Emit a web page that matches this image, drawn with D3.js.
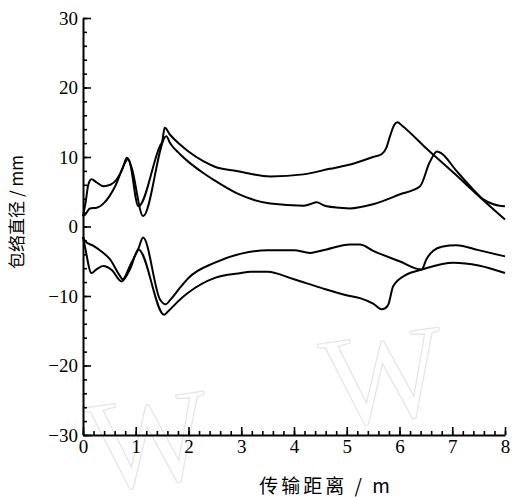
<!DOCTYPE html>
<html>
<head>
<meta charset="utf-8">
<script src="https://cdn.jsdelivr.net/npm/d3@7"></script>
<style>
  body { margin: 0; background: #fff; }
  svg { display: block; }
</style>
</head>
<body>
<div id="chart"></div>
<script>
// envelope curves, distance in m, diameter in mm
var upper1X = [0, 0.05, 0.1, 0.16, 0.25, 0.39, 0.52, 0.64, 0.75, 0.83, 0.88, 1.05, 1.46, 1.5, 1.55, 1.65, 1.84, 2.0, 2.28, 2.5, 2.91, 3.55, 4.18, 4.68, 5.0, 5.5, 5.66, 5.75, 5.82, 5.9, 5.96, 6.05, 6.5, 7.0, 7.5, 8.0];
var upper1Y = [1.5, 3.5, 6.0, 6.8, 6.4, 5.8, 6.0, 6.8, 8.3, 9.9, 9.4, 2.9, 11.6, 12.2, 14.2, 13.2, 11.8, 10.8, 9.4, 8.6, 8.0, 7.2, 7.5, 8.3, 8.8, 10.0, 10.4, 11.3, 13.0, 14.6, 15.0, 14.5, 11.3, 7.9, 4.4, 1.0];

var upper2X = [0, 0.04, 0.13, 0.26, 0.4, 0.61, 0.8, 0.85, 0.92, 1.14, 1.58, 1.65, 1.84, 2.0, 2.28, 2.5, 2.91, 3.55, 4.18, 4.3, 4.43, 4.55, 4.62, 4.87, 5.06, 5.5, 6.0, 6.39, 6.57, 6.71, 6.8, 7.08, 7.4, 7.59, 7.78, 8.0];
var upper2Y = [1.5, 1.7, 2.6, 2.7, 3.4, 5.8, 9.2, 9.7, 8.5, 1.5, 13.0, 12.0, 10.4, 9.3, 7.7, 6.6, 4.8, 3.3, 3.0, 3.2, 3.5, 3.1, 2.9, 2.7, 2.6, 3.2, 4.6, 5.8, 9.2, 10.8, 10.5, 8.0, 5.3, 3.9, 3.2, 2.9];

var lower1X = [0, 0.04, 0.2, 0.35, 0.51, 0.7, 0.75, 0.9, 1.05, 1.14, 1.46, 1.57, 1.65, 1.84, 2.0, 2.5, 3.0, 3.5, 4.0, 4.3, 4.45, 4.62, 5.06, 5.25, 5.5, 6.0, 6.42, 6.51, 6.64, 6.8, 7.08, 7.5, 8.0];
var lower1Y = [-1.5, -2.1, -2.8, -3.6, -4.7, -7.1, -7.6, -5.5, -3.2, -1.6, -10.5, -11.2, -10.6, -8.8, -7.4, -5.2, -3.9, -3.4, -3.4, -3.8, -3.6, -3.3, -2.6, -2.6, -3.5, -5.0, -6.2, -4.7, -3.5, -2.9, -2.7, -3.4, -4.3];

var lower2X = [0, 0.04, 0.16, 0.25, 0.38, 0.55, 0.73, 0.9, 1.05, 1.54, 1.6, 1.84, 2.0, 2.5, 3.0, 3.17, 3.5, 4.0, 4.5, 5.06, 5.25, 5.5, 5.66, 5.72, 5.79, 5.88, 6.14, 6.42, 7.02, 7.5, 8.0];
var lower2Y = [-1.5, -3.0, -6.7, -6.2, -5.7, -6.3, -7.9, -6.0, -3.3, -12.7, -12.3, -10.5, -9.5, -7.4, -6.7, -6.5, -6.5, -7.6, -8.8, -10.0, -10.3, -11.1, -11.9, -11.8, -11.2, -8.6, -6.9, -6.2, -5.2, -5.6, -6.7];

var xMajor = [0, 1, 2, 3, 4, 5, 6, 7, 8];
var yMajor = [-30, -20, -10, 0, 10, 20, 30];
var xTitle = '传输距离 / m';
var yTitle = '包络直径 / mm';

var width = 512, height = 497;
var margin = {top: 18, right: 7, bottom: 62, left: 83};
var serif = "'Liberation Serif', 'Times New Roman', serif";
var cjk = "'Noto Sans CJK SC', sans-serif";

var svg = d3.select('#chart').append('svg')
    .attr('width', width)
    .attr('height', height);

// faint watermark
svg.append('g')
    .attr('fill', 'none')
    .attr('stroke', '#e6e6e6')
    .attr('stroke-width', 1.2)
    .selectAll('text')
    .data([{x: 155, y: 484, r: -8}, {x: 390, y: 420, r: -8}])
    .enter().append('text')
    .attr('transform', function(d) { return 'translate(' + d.x + ',' + d.y + ') rotate(' + d.r + ')'; })
    .attr('text-anchor', 'middle')
    .style('font-family', serif)
    .style('font-size', '130px')
    .text('W');

var x = d3.scaleLinear().domain([0, 8]).range([margin.left, width - margin.right]);
var y = d3.scaleLinear().domain([-30, 30]).range([height - margin.bottom, margin.top]);

var line = d3.line()
    .x(function(d) { return x(d[0]); })
    .y(function(d) { return y(d[1]); })
    .curve(d3.curveMonotoneX);

var series = [
  d3.zip(upper1X, upper1Y),
  d3.zip(upper2X, upper2Y),
  d3.zip(lower1X, lower1Y),
  d3.zip(lower2X, lower2Y)
];

svg.append('g')
    .selectAll('path')
    .data(series)
    .enter().append('path')
    .attr('d', line)
    .attr('fill', 'none')
    .attr('stroke', '#000')
    .attr('stroke-width', 2)
    .attr('stroke-linejoin', 'round');

// minor ticks
svg.append('g')
    .attr('transform', 'translate(0,' + y(-30) + ')')
    .call(d3.axisBottom(x).tickValues(d3.range(0, 8.01, 0.2)).tickSize(-4).tickFormat(''))
    .call(function(g) { g.select('.domain').remove(); });
svg.append('g')
    .attr('transform', 'translate(' + x(0) + ',0)')
    .call(d3.axisLeft(y).tickValues(d3.range(-30, 30.01, 2)).tickSize(-4).tickFormat(''))
    .call(function(g) { g.select('.domain').remove(); });

// major ticks and labels
svg.append('g')
    .attr('transform', 'translate(0,' + y(-30) + ')')
    .call(d3.axisBottom(x).tickValues(xMajor).tickSize(-8).tickSizeOuter(0).tickPadding(5));
svg.append('g')
    .attr('transform', 'translate(' + x(0) + ',0)')
    .call(d3.axisLeft(y).tickValues(yMajor).tickSize(-8).tickSizeOuter(0).tickPadding(5));

svg.selectAll('.tick line').attr('stroke-width', 1.6);
svg.selectAll('.domain').attr('stroke-width', 2);
svg.selectAll('g').attr('font-family', null);
svg.selectAll('.tick text')
    .style('font-family', serif)
    .style('font-size', '19px')
    .attr('fill', '#000');

svg.append('text')
    .attr('x', 326)
    .attr('y', 493)
    .attr('text-anchor', 'middle')
    .style('font-family', cjk)
    .style('font-size', '19px')
    .style('letter-spacing', '3px')
    .text(xTitle);

svg.append('text')
    .attr('transform', 'translate(23,212) rotate(-90)')
    .attr('text-anchor', 'middle')
    .style('font-family', cjk)
    .style('font-size', '17px')
    .text(yTitle);
</script>
</body>
</html>
